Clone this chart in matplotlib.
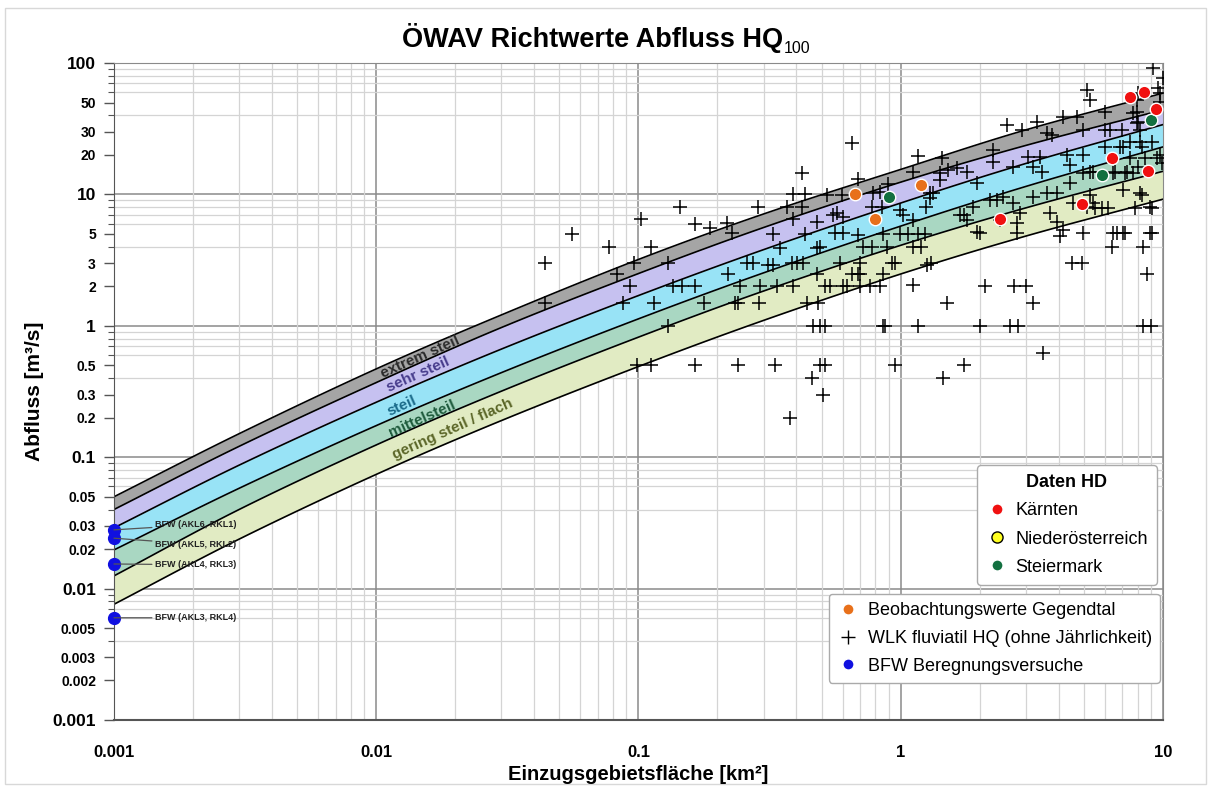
import numpy as np
import matplotlib
matplotlib.use("Agg")
import matplotlib.pyplot as plt
from matplotlib.lines import Line2D
from matplotlib.patches import Rectangle
from matplotlib.ticker import FixedLocator, NullFormatter, LogLocator

plt.rcParams['font.family'] = ['Liberation Sans', 'DejaVu Sans']

# ---------------- data ----------------
curve_area = [0.001, 0.003, 0.01, 0.03, 0.1, 0.3, 1, 3, 10]
curve_top = [0.050, 0.151, 0.47, 1.21, 3.2, 7.1, 15.5, 31, 59]
curve_b1 = [0.040, 0.121, 0.37, 0.97, 2.5, 5.6, 12.4, 23.6, 44]
curve_b2 = [0.029, 0.087, 0.262, 0.665, 1.70, 3.8, 8.6, 17.2, 34]
curve_b3 = [0.0197, 0.058, 0.174, 0.44, 1.13, 2.53, 5.74, 11.5, 23]
curve_b4 = [0.0125, 0.040, 0.124, 0.318, 0.82, 1.84, 4.1, 7.9, 15]
curve_bot = [0.0076, 0.0238, 0.074, 0.19, 0.49, 1.10, 2.48, 4.82, 9.2]

band_names = ["extrem steil", "sehr steil", "steil", "mittelsteil", "gering steil / flach"]

wlk_pairs = [
    (0.044, 3), (0.044, 1.5), (0.056, 5), (0.077, 4), (0.083, 2.5), (0.087, 1.5), (0.093, 2),
    (0.096, 3), (0.099, 0.5), (0.102, 6.5), (0.112, 4), (0.112, 0.5), (0.115, 1.5), (0.13, 3),
    (0.13, 1), (0.135, 2), (0.144, 8), (0.146, 2), (0.164, 6), (0.164, 2), (0.165, 0.5),
    (0.178, 1.5), (0.187, 5.6), (0.217, 6.1), (0.219, 2.5), (0.227, 5.1), (0.233, 1.5),
    (0.239, 1.5), (0.239, 0.5), (0.244, 2), (0.259, 3), (0.273, 3), (0.285, 8), (0.288, 1.5),
    (0.29, 2), (0.311, 2.9), (0.325, 2.9), (0.325, 5), (0.331, 0.5), (0.337, 2), (0.346, 3.9),
    (0.368, 8), (0.378, 0.2), (0.385, 3), (0.388, 10.1), (0.388, 6.5), (0.388, 2), (0.402, 3),
    (0.42, 14.6), (0.42, 8), (0.424, 3), (0.43, 10.1), (0.431, 5), (0.439, 1.5), (0.458, 0.4),
    (0.462, 1), (0.479, 6.2), (0.479, 3.9), (0.479, 2.5), (0.483, 1.5), (0.492, 4), (0.492, 1),
    (0.492, 0.5), (0.505, 0.3), (0.514, 2), (0.514, 1), (0.514, 0.5), (0.523, 9.9), (0.537, 2),
    (0.551, 7), (0.561, 5.1), (0.571, 7.2), (0.586, 3), (0.596, 9.9), (0.601, 6.7), (0.601, 5.1),
    (0.601, 2), (0.623, 2), (0.651, 24.7), (0.651, 2.5), (0.686, 13.1), (0.686, 4.9), (0.686, 2.5),
    (0.698, 3), (0.698, 2), (0.698, 2.5), (0.716, 4), (0.762, 2), (0.776, 4), (0.776, 8),
    (0.783, 10.3), (0.832, 10.5), (0.832, 2), (0.847, 8), (0.855, 2.5), (0.855, 5), (0.855, 1),
    (0.869, 1), (0.885, 4), (0.893, 12), (0.93, 3), (0.95, 3), (0.95, 0.5), (0.993, 5),
    (0.993, 7.6), (1.02, 7), (1.07, 5), (1.11, 14.9), (1.11, 6.4), (1.11, 4), (1.11, 2.05),
    (1.16, 19.7), (1.16, 5), (1.16, 1), (1.2, 4), (1.24, 5), (1.25, 8), (1.26, 2.9), (1.29, 10.3),
    (1.29, 9.4), (1.3, 3), (1.325, 10.3), (1.41, 12.9), (1.41, 14.6), (1.435, 19), (1.45, 0.4),
    (1.5, 1.5), (1.51, 15.4), (1.64, 15.9), (1.68, 7), (1.75, 7), (1.75, 0.5), (1.79, 14.9),
    (1.79, 6.4), (1.88, 8), (1.95, 12.2), (1.95, 5.2), (2.0, 5.1), (2.0, 1), (2.1, 2),
    (2.19, 9.1), (2.24, 21.8), (2.24, 17.7), (2.32, 9.1), (2.39, 6.4), (2.45, 9.6), (2.54, 33.9),
    (2.6, 1), (2.67, 16.2), (2.67, 8.6), (2.7, 2), (2.77, 6.1), (2.77, 5.1), (2.8, 1), (2.85, 7.2),
    (2.9, 31), (3.0, 2), (3.05, 19.4), (3.19, 16.2), (3.19, 9.6), (3.2, 1.5), (3.3, 35.7),
    (3.39, 19.4), (3.45, 14.9), (3.5, 0.62), (3.61, 29.4), (3.61, 10.3), (3.7, 7.2), (3.77, 28.5),
    (3.94, 10.3), (3.94, 6.2), (4.04, 4.8), (4.15, 39), (4.15, 5.4), (4.3, 20), (4.41, 16.7),
    (4.41, 12.2), (4.5, 3), (4.53, 8.6), (4.69, 39), (4.9, 3), (4.94, 31), (4.94, 20), (4.94, 14.6),
    (4.94, 5.1), (5.12, 62.6), (5.12, 8), (5.26, 52.3), (5.26, 14.9), (5.26, 9.9), (5.4, 14.9),
    (5.4, 8.6), (5.49, 7.9), (5.84, 7.9), (6.0, 42.4), (6.0, 31), (6.0, 23), (6.16, 7.9),
    (6.27, 31), (6.38, 4), (6.44, 14.6), (6.44, 5.1), (6.55, 14.9), (6.67, 5.1), (6.84, 23),
    (6.97, 31), (7.03, 23), (7.03, 10.8), (7.03, 5.1), (7.15, 14.6), (7.15, 5.1), (7.28, 14.9),
    (7.47, 25), (7.47, 19), (7.67, 41.7), (7.67, 14.6), (7.81, 7.9), (7.94, 52), (7.94, 42.5),
    (7.94, 35), (8.02, 59.3), (8.02, 35.6), (8.02, 16.2), (8.16, 31), (8.16, 25), (8.16, 10.3),
    (8.3, 23), (8.3, 9.9), (8.38, 4), (8.4, 1), (8.53, 19), (8.68, 2.5), (8.91, 8), (8.91, 5.1),
    (9.0, 1), (9.07, 25), (9.07, 7.9), (9.07, 5.1), (9.15, 92), (9.47, 19), (9.55, 64.5),
    (9.72, 59.3), (9.72, 50.6), (9.72, 20), (9.89, 17.4), (9.98, 77),
]
wlk_area = [p[0] for p in wlk_pairs]
wlk_q = [p[1] for p in wlk_pairs]

kaernten_area = [7.5, 8.5, 9.4, 6.4, 8.8, 4.9, 2.4]
kaernten_q = [55, 60, 45, 19, 15, 8.5, 6.5]
steiermark_area = [0.9, 5.85, 9.0]
steiermark_q = [9.6, 14, 37]
gegendtal_area = [0.67, 0.80, 1.2]
gegendtal_q = [10, 6.5, 11.8]
bfw_area = [0.001, 0.001, 0.001, 0.001]
bfw_q = [0.028, 0.0242, 0.0154, 0.006]
bfw_labels = ["BFW (AKL6, RKL1)", "BFW (AKL5, RKL2)", "BFW (AKL4, RKL3)", "BFW (AKL3, RKL4)"]

y_tick_values = [0.001, 0.002, 0.003, 0.005, 0.01, 0.02, 0.03, 0.05, 0.1, 0.2, 0.3, 0.5,
                 1, 2, 3, 5, 10, 20, 30, 50, 100]
y_tick_labels = ["0.001", "0.002", "0.003", "0.005", "0.01", "0.02", "0.03", "0.05", "0.1",
                 "0.2", "0.3", "0.5", "1", "2", "3", "5", "10", "20", "30", "50", "100"]
x_tick_values = [0.001, 0.01, 0.1, 1, 10]
x_tick_labels = ["0.001", "0.01", "0.1", "1", "10"]


def smooth_path(xs, ys, n=12):
    """Smoothed line through the given points (Catmull-Rom in log-log space), like a
    spreadsheet's 'smoothed line' option. Passes through every given point."""
    lx = np.log10(xs)
    ly = np.log10(ys)
    px = np.concatenate([[2 * lx[0] - lx[1]], lx, [2 * lx[-1] - lx[-2]]])
    py = np.concatenate([[2 * ly[0] - ly[1]], ly, [2 * ly[-1] - ly[-2]]])
    outx, outy = [], []
    t = np.linspace(0, 1, n, endpoint=False)
    for i in range(1, len(px) - 2):
        for arr, out in ((px, outx), (py, outy)):
            p0, p1, p2, p3 = arr[i - 1], arr[i], arr[i + 1], arr[i + 2]
            out.extend(0.5 * ((2 * p1) + (-p0 + p2) * t + (2 * p0 - 5 * p1 + 4 * p2 - p3) * t ** 2
                              + (-p0 + 3 * p1 - 3 * p2 + p3) * t ** 3))
    outx.append(lx[-1])
    outy.append(ly[-1])
    return 10 ** np.array(outx), 10 ** np.array(outy)


# ---------------- figure ----------------
fig = plt.figure(figsize=(12.11, 7.87), dpi=100)
fig.patches.append(Rectangle((0.004, 0.004), 0.992, 0.986, transform=fig.transFigure,
                             fill=False, edgecolor="#d8d8d8", linewidth=1.0))
ax = fig.add_axes([0.0941, 0.0851, 0.8662, 0.8348])
ax.set_xscale("log")
ax.set_yscale("log")
ax.set_xlim(0.001, 10)
ax.set_ylim(0.001, 100)

# grid
ax.set_axisbelow(True)
ax.xaxis.set_minor_locator(LogLocator(base=10, subs=np.arange(2, 10)))
ax.yaxis.set_minor_locator(LogLocator(base=10, subs=np.arange(2, 10)))
ax.grid(which="minor", color="#d4d4d4", linewidth=0.9)
for v in [0.001, 0.01, 0.1, 1, 10]:
    ax.axvline(v, color="#8a8a8a", linewidth=1.1, zorder=0.5)
for v in [0.001, 0.01, 0.1, 1, 10, 100]:
    ax.axhline(v, color="#8a8a8a", linewidth=1.1, zorder=0.5)

# bands
curves = [curve_top, curve_b1, curve_b2, curve_b3, curve_b4, curve_bot]
smooth = [smooth_path(curve_area, c) for c in curves]
band_colors = ["#a5a5a5", "#c6c1f0", "#98e3f6", "#a9d7c2", "#e1ebc3"]
for i, c in enumerate(band_colors):
    sx, up = smooth[i]
    _, lo = smooth[i + 1]
    ax.fill_between(sx, lo, up, color=c, linewidth=0, zorder=1)
for sx, sy in smooth:
    ax.plot(sx, sy, color="black", linewidth=1.2, zorder=2)

# band labels
label_pos = [(0.0147, 0.578), (0.0145, 0.425), (0.0125, 0.247), (0.0150, 0.195), (0.0196, 0.163)]
label_colors = ["#2b2b2b", "#473c8c", "#1b6b8a", "#1e5b3c", "#5b6628"]
for name, (lx, ly), lc in zip(band_names, label_pos, label_colors):
    ax.text(lx, ly, name, rotation=24, ha="center", va="center", rotation_mode="anchor",
            fontsize=11, fontweight="bold", color=lc, zorder=3)

# WLK crosses
ax.plot(wlk_area, wlk_q, linestyle="none", marker="+", markersize=10.5, markeredgewidth=1.1,
        color="black", zorder=4)

# coloured points
ax.plot(gegendtal_area, gegendtal_q, linestyle="none", marker="o", markersize=9,
        markerfacecolor="#e8701a", markeredgecolor="white", markeredgewidth=1.0, zorder=5)
ax.plot(steiermark_area, steiermark_q, linestyle="none", marker="o", markersize=9,
        markerfacecolor="#127040", markeredgecolor="white", markeredgewidth=1.0, zorder=5)
ax.plot(kaernten_area, kaernten_q, linestyle="none", marker="o", markersize=9,
        markerfacecolor="#f01010", markeredgecolor="white", markeredgewidth=1.0, zorder=5)
ax.plot(bfw_area, bfw_q, linestyle="none", marker="o", markersize=8.5,
        markerfacecolor="#1010e0", markeredgecolor="#1010e0", zorder=6, clip_on=False)

# BFW annotations
bfw_text_y = [0.0306, 0.0218, 0.0152, 0.0060]
for q, ty, lab in zip(bfw_q, bfw_text_y, bfw_labels):
    ax.annotate(lab, xy=(0.001, q), xytext=(0.00143, ty), textcoords="data",
                fontsize=6.5, fontweight="bold", color="#222222", va="center", ha="left",
                arrowprops=dict(arrowstyle="-", color="#555555", linewidth=0.9,
                                shrinkA=0, shrinkB=0), zorder=6)

# ticks
ax.yaxis.set_major_locator(FixedLocator(y_tick_values))
ax.set_yticklabels(y_tick_labels)
ax.xaxis.set_major_locator(FixedLocator(x_tick_values))
ax.set_xticklabels(x_tick_labels)
ax.xaxis.set_minor_formatter(NullFormatter())
ax.yaxis.set_minor_formatter(NullFormatter())
for lab, v in zip(ax.get_yticklabels(), y_tick_values):
    dec = abs(np.log10(v) - round(np.log10(v))) < 1e-9
    lab.set_fontsize(12.5 if dec else 10)
    lab.set_fontweight("bold")
for lab in ax.get_xticklabels():
    lab.set_fontsize(12)
    lab.set_fontweight("bold")
ax.tick_params(axis="y", which="major", length=7, width=1, color="#555555", pad=6)
ax.tick_params(axis="y", which="minor", length=4, width=0.8, color="#555555")
ax.tick_params(axis="x", which="both", length=0, pad=18)
for s in ["top", "right", "bottom", "left"]:
    ax.spines[s].set_color("#8a8a8a")
ax.spines["left"].set_color("#555555")
ax.spines["bottom"].set_color("#555555")
ax.spines["bottom"].set_linewidth(1.5)

fig.text(0.0941 + 0.8662 / 2, 1 - 775 / 787, "Einzugsgebietsfläche [km²]", ha="center",
         va="center", fontsize=14.5, fontweight="bold")
ax.set_ylabel("Abfluss [m³/s]", fontsize=15, fontweight="bold", labelpad=6)

# title with subscript
fig.canvas.draw()
renderer = fig.canvas.get_renderer()
t_main = fig.text(0.5, 0.94, "ÖWAV Richtwerte Abfluss HQ", ha="center", va="baseline",
                  fontsize=19.5, fontweight="bold")
t_sub = fig.text(0.5, 0.94, "100", ha="left", va="baseline", fontsize=11.5)
wm = t_main.get_window_extent(renderer).width
ws = t_sub.get_window_extent(renderer).width
figw = fig.bbox.width
cx = 0.5 * figw
left = cx - (wm + ws) / 2
t_main.set_ha("left")
t_main.set_x(left / figw)
t_sub.set_x((left + wm + 1) / figw)
t_sub.set_y(0.94 - 6 / fig.bbox.height)

# legends
h1 = [Line2D([], [], linestyle="none", marker="o", markersize=8, markerfacecolor="#f01010",
             markeredgecolor="white", label="Kärnten"),
      Line2D([], [], linestyle="none", marker="o", markersize=8, markerfacecolor="#ffff20",
             markeredgecolor="black", label="Niederösterreich"),
      Line2D([], [], linestyle="none", marker="o", markersize=8, markerfacecolor="#127040",
             markeredgecolor="white", label="Steiermark")]
leg1 = ax.legend(handles=h1, title="Daten HD", loc="upper right", bbox_to_anchor=(0.994, 0.388),
                 borderaxespad=0, fontsize=13, title_fontproperties={"weight": "bold", "size": 13},
                 fancybox=True, framealpha=1, edgecolor="#aaaaaa", handletextpad=0.4,
                 handlelength=1.2, borderpad=0.5, labelspacing=0.62)
leg1.set_zorder(10)
ax.add_artist(leg1)
h2 = [Line2D([], [], linestyle="none", marker="o", markersize=8, markerfacecolor="#e8701a",
             markeredgecolor="white", label="Beobachtungswerte Gegendtal"),
      Line2D([], [], linestyle="none", marker="+", markersize=10, color="black",
             label="WLK fluviatil HQ (ohne Jährlichkeit)"),
      Line2D([], [], linestyle="none", marker="o", markersize=8, markerfacecolor="#1010e0",
             markeredgecolor="white", label="BFW Beregnungsversuche")]
leg2 = ax.legend(handles=h2, loc="upper right", bbox_to_anchor=(0.997, 0.192), borderaxespad=0,
                 fontsize=13, fancybox=True, framealpha=1, edgecolor="#aaaaaa",
                 handletextpad=0.5, handlelength=1.2, borderpad=0.45, labelspacing=0.6)
leg2.set_zorder(10)

fig.savefig("out.png", dpi=100)
